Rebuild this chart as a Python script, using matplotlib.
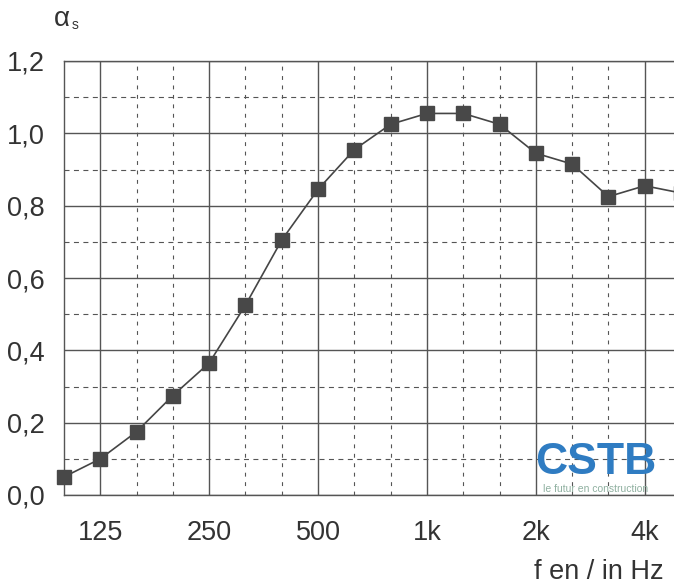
import matplotlib.pyplot as plt

# third-octave band centre frequencies and absorption coefficient
freqs = ['100', '125', '160', '200', '250', '315', '400', '500', '630', '800',
         '1k', '1.25k', '1.6k', '2k', '2.5k', '3.15k', '4k', '5k']
alpha_s = [0.05, 0.10, 0.175, 0.275, 0.365, 0.525, 0.705, 0.845, 0.955, 1.025,
           1.055, 1.055, 1.025, 0.945, 0.915, 0.825, 0.855, 0.835]
octave_labels = ['125', '250', '500', '1k', '2k', '4k']

y_major = [0.0, 0.2, 0.4, 0.6, 0.8, 1.0, 1.2]
y_major_labels = ['0,0', '0,2', '0,4', '0,6', '0,8', '1,0', '1,2']
y_minor = [0.1, 0.3, 0.5, 0.7, 0.9, 1.1]

plt.rcParams['font.family'] = ['Liberation Sans', 'DejaVu Sans']
text_color = '#333333'
grid_color = '#555555'

fig = plt.figure(figsize=(6.74, 5.87), dpi=100)
W, H = 674, 587
# axes spans from 100 Hz (x=64px) to 5 kHz (x=681px, past the right edge)
ax = fig.add_axes([64 / W, (H - 495) / H, (681 - 64) / W, (495 - 61) / H])

x = list(range(len(freqs)))
ax.plot(x, alpha_s, color='#454545', lw=1.2, marker='s', markersize=10,
        markerfacecolor='#484848', markeredgecolor='#484848', zorder=5, clip_on=False)

major_x = [freqs.index(f) for f in octave_labels]
minor_x = [i for i in x if i not in major_x and i != 0]

ax.set_xlim(0, len(freqs) - 1)
ax.set_ylim(0, 1.2)
ax.set_xticks(major_x)
ax.set_xticklabels(octave_labels)
ax.set_xticks(minor_x, minor=True)
ax.set_yticks(y_major)
ax.set_yticklabels(y_major_labels)
ax.set_yticks(y_minor, minor=True)

ax.grid(which='major', color=grid_color, lw=1.0, ls='-')
ax.grid(which='minor', axis='y', color=grid_color, lw=0.8, ls=(0, (4.5, 4)))
ax.grid(which='minor', axis='x', color=grid_color, lw=0.8, ls=(0, (3.5, 5)))
ax.set_axisbelow(True)

ax.tick_params(which='both', length=0)
ax.tick_params(axis='y', pad=14, labelsize=19.5, labelcolor=text_color)
ax.tick_params(axis='x', pad=18, labelsize=19.5, labelcolor=text_color)
for s in ax.spines.values():
    s.set_color(grid_color)
    s.set_linewidth(1.0)

# axis titles
fig.text(54 / W, 1 - 19 / H, 'α', fontsize=20, color=text_color, ha='left', va='center')
fig.text(72 / W, 1 - 25 / H, 's', fontsize=10, color=text_color, ha='left', va='center')
fig.text(664 / W, 1 - 572 / H, 'f en / in Hz', fontsize=19.5, color=text_color,
         ha='right', va='center')

# CSTB logo
fig.text(596 / W, 1 - 462 / H, 'CSTB', fontsize=32, fontweight='heavy', color='#2f7cc2',
         ha='center', va='center')
fig.text(596 / W, 1 - 489 / H, 'le futur en construction', fontsize=7.5, color='#8fb0a0',
         ha='center', va='center')

plt.savefig('out.png', dpi=100)
